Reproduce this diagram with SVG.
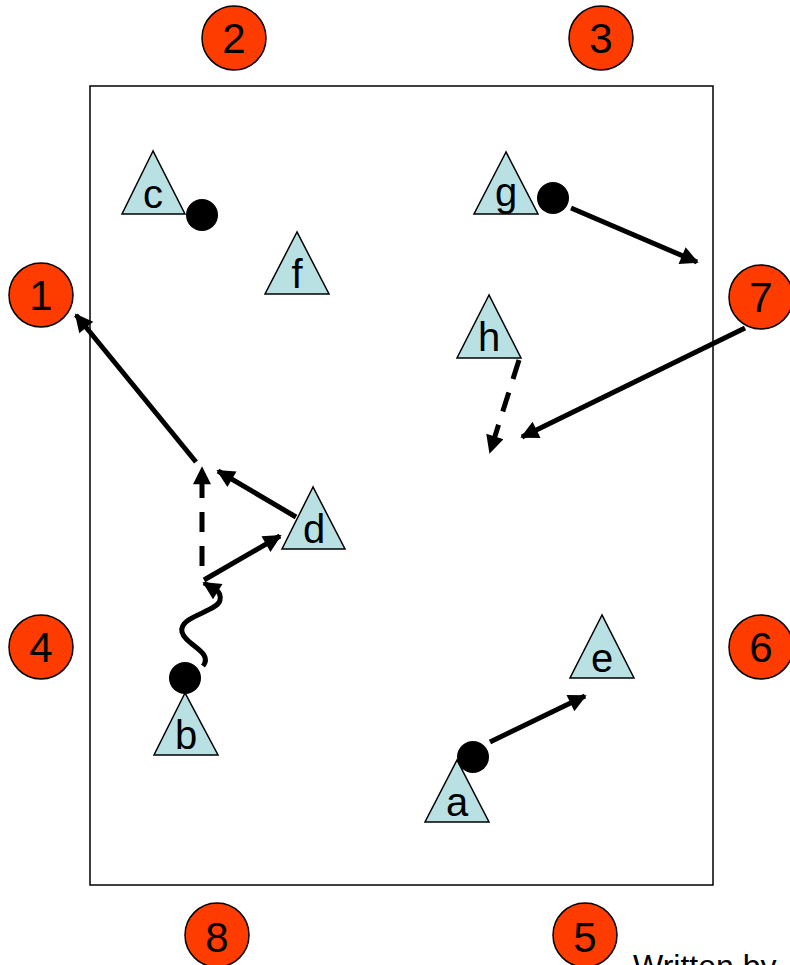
<svg xmlns="http://www.w3.org/2000/svg" width="790" height="965" viewBox="0 0 790 965">
<style>
.num{fill:#ff3c00;stroke:#000;stroke-width:1.5}
.nt{font-family:"Liberation Sans",Arial,sans-serif;font-size:42px;fill:#000;text-anchor:middle}
.tri{fill:#b9e0e3;stroke:#000;stroke-width:1.5}
.lt{font-family:"Liberation Sans",Arial,sans-serif;font-size:40px;fill:#000;text-anchor:middle}
.dot{fill:#000}
.ar{stroke:#000;stroke-width:5;fill:none;marker-end:url(#ah)}
.da{stroke:#000;stroke-width:5;fill:none;stroke-dasharray:20 14;marker-end:url(#ah)}
</style>
<defs>
<marker id="ah" viewBox="0 0 10 10" refX="9" refY="5" markerWidth="4.2" markerHeight="3.6" orient="auto" markerUnits="strokeWidth">
<path d="M0,0 L10,5 L0,10 z" fill="#000"/>
</marker>
</defs>
<rect x="90" y="86" width="623" height="799" fill="#fff" stroke="#000" stroke-width="1.5"/>
<g id="n2"><circle class="num" cx="234" cy="38" r="32"/><text class="nt" x="234" y="53">2</text></g>
<g id="n3"><circle class="num" cx="601" cy="38" r="32"/><text class="nt" x="601" y="53">3</text></g>
<g id="n1"><circle class="num" cx="41" cy="295" r="32"/><text class="nt" x="41" y="310">1</text></g>
<g id="n7"><circle class="num" cx="761" cy="297" r="32"/><text class="nt" x="761" y="312">7</text></g>
<g id="n4"><circle class="num" cx="41" cy="647" r="32"/><text class="nt" x="41" y="662">4</text></g>
<g id="n6"><circle class="num" cx="761" cy="647" r="32"/><text class="nt" x="761" y="662">6</text></g>
<g id="n8"><circle class="num" cx="217" cy="935" r="32"/><text class="nt" x="217" y="952">8</text></g>
<g id="n5"><circle class="num" cx="585" cy="935" r="32"/><text class="nt" x="585" y="952">5</text></g>
<g id="c"><polygon class="tri" points="153,151 122,214 185,214"/><text class="lt" x="153" y="208">c</text><circle class="dot" cx="202" cy="215" r="16"/></g>
<g id="f"><polygon class="tri" points="297,232 265,294 329,294"/><text class="lt" x="297" y="288">f</text></g>
<g id="g"><polygon class="tri" points="506,152 474,214 538,214"/><text class="lt" x="506" y="206">g</text><circle class="dot" cx="553" cy="198" r="16"/></g>
<g id="h"><polygon class="tri" points="489,295 457,358 521,358"/><text class="lt" x="489" y="351">h</text></g>
<g id="d"><polygon class="tri" points="313,487 282,549 345,549"/><text class="lt" x="314" y="543">d</text></g>
<g id="b"><polygon class="tri" points="185,693 154,755 218,755"/><text class="lt" x="186" y="749">b</text><circle class="dot" cx="185" cy="678" r="16"/></g>
<g id="e"><polygon class="tri" points="602,615 570,678 634,678"/><text class="lt" x="602" y="672">e</text></g>
<g id="a"><polygon class="tri" points="457,760 425,822 489,822"/><text class="lt" x="457" y="816">a</text><circle class="dot" cx="473" cy="757" r="16"/></g>
<g id="connectors">
<line class="ar" x1="571" y1="208" x2="697" y2="262"/>
<line class="da" x1="519" y1="360" x2="490" y2="452"/>
<line class="ar" x1="745" y1="328" x2="522" y2="437"/>
<line class="ar" x1="296" y1="517" x2="218" y2="471"/>
<line class="ar" x1="204" y1="580" x2="280" y2="536"/>
<line class="da" x1="202" y1="566" x2="202" y2="468"/>
<line class="ar" x1="196" y1="462" x2="76" y2="315"/>
<path class="ar" d="M203,666 C214,652 185,645 182,632 C178,616 218,612 220,600 C222,590 212,588 204,583"/>
<line class="ar" x1="490" y1="742" x2="585" y2="696"/>
</g>
<text x="633" y="977" font-family="Liberation Sans,Arial,sans-serif" font-size="32" fill="#000">Written by</text>
</svg>
